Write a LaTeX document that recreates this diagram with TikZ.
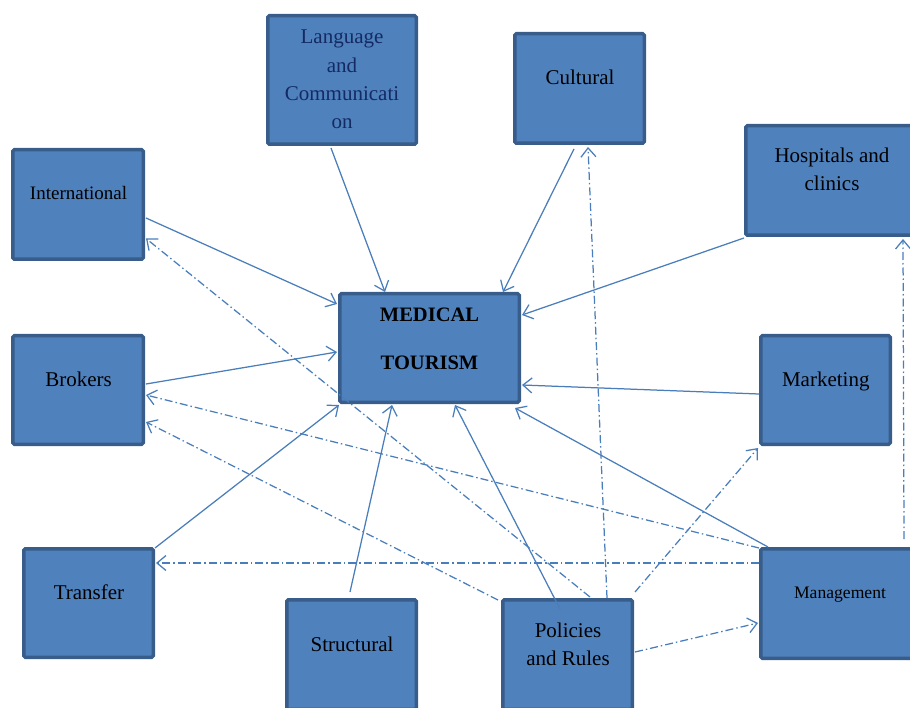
\documentclass[tikz,border=0pt]{standalone}
\usepackage{fontspec}
\setmainfont{Liberation Serif}
\usetikzlibrary{arrows.meta,calc}
\definecolor{boxfill}{HTML}{4F81BD}
\definecolor{boxline}{HTML}{385D8A}
\definecolor{lnc}{HTML}{4A7EBB}
\definecolor{navy}{HTML}{142A63}
\begin{document}
\begin{tikzpicture}[x=1pt,y=-1pt,
  box/.style={draw=boxline, fill=boxfill, line width=3.5pt, rounded corners=1.5pt, inner sep=0pt},
  txt/.style={inner sep=0pt, align=center, font=\fontsize{21}{28.3}\selectfont},
  solidarrow/.style={draw=lnc, line width=1.25pt, -{Straight Barb[length=9pt,width=15pt]}},
  dasharrow/.style={solidarrow, dash pattern=on 8pt off 3pt on 1.5pt off 3pt}]
\clip (0,0) rectangle (910,708);
% boxes
\node[box, minimum width=148.5pt, minimum height=128.5pt] (lang) at (342,80) {};
\node[box, minimum width=129.5pt, minimum height=109.5pt] (cult) at (579.5,88.5) {};
\node[box, minimum width=130.5pt, minimum height=109.5pt] (intl) at (78,204.5) {};
\node[box, minimum width=172.5pt, minimum height=109.5pt] (hosp) at (832,180.5) {};
\node[box, minimum width=179.5pt, minimum height=108.5pt] (MT) at (429.5,348) {};
\node[box, minimum width=130.5pt, minimum height=108.5pt] (brok) at (78,390) {};
\node[box, minimum width=129.5pt, minimum height=108.5pt] (mark) at (825.5,390) {};
\node[box, minimum width=129.5pt, minimum height=108.5pt] (trans) at (88.5,603) {};
\node[box, minimum width=129.5pt, minimum height=109.5pt] (struct) at (351.5,654.5) {};
\node[box, minimum width=129.5pt, minimum height=109.5pt] (pol) at (567.5,654.5) {};
\node[box, minimum width=158.5pt, minimum height=109.5pt] (mgmt) at (840,603.5) {};
% texts
\node[txt, text=navy] (langt) at ($(lang.center)+(0,-0.4)$) {Language\\and\\Communicati\\on};
\node[txt, anchor=base] (cultt) at ($(cult.center)+(0.5,-3.5)$) {Cultural};
\node[txt, anchor=base, font=\fontsize{19}{24}\selectfont] (intlt) at ($(intl.center)+(0.5,-4.5)$) {International};
\node[txt] (hospt) at ($(hosp.center)+(0,-10.9)$) {Hospitals and\\clinics};
\node[txt, font=\fontsize{20.5}{48.3}\selectfont\bfseries] (MTt) at ($(MT.center)+(0,-8.9)$) {MEDICAL\\TOURISM};
\node[txt, anchor=base] (brokt) at ($(brok.center)+(0.5,-3.3)$) {Brokers};
\node[txt, anchor=base] (markt) at ($(mark.center)+(0.3,-3.3)$) {Marketing};
\node[txt, anchor=base] (transt) at ($(trans.center)+(0.5,-4)$) {Transfer};
\node[txt, anchor=base] (structt) at ($(struct.center)+(0.5,-3.5)$) {Structural};
\node[txt] (polt) at ($(pol.center)+(0.5,-10.3)$) {Policies\\and Rules};
\node[txt, anchor=base, font=\fontsize{17.6}{22}\selectfont] (mgmtt) at ($(mgmt.center)+(0,-5.5)$) {Management};
% solid connectors
\draw[solidarrow] ($(lang.south)+(-11,2)$) -- ($(MT.north)+(-44.5,0)$);
\draw[solidarrow] ($(cult.south)+(-5.5,4)$) -- ($(MT.north)+(73.5,0)$);
\draw[solidarrow] ($(hosp.south west)+(0,1)$) -- ($(MT.east)+(1,-33)$);
\draw[solidarrow] ($(intl.east)+(1,13.5)$) -- ($(MT.west)+(-1,-44)$);
\draw[solidarrow] ($(brok.east)+(1,-6)$) -- ($(MT.west)+(-1,4)$);
\draw[solidarrow] ($(mark.west)+(0,4)$) -- ($(MT.east)+(1,37)$);
\draw[solidarrow] ($(trans.north east)+(0,1)$) -- ($(MT.south west)+(1,1)$);
\draw[solidarrow] ($(struct.north)+(-1.5,-6)$) -- ($(MT.south)+(-37.5,1)$);
\draw[solidarrow] ($(pol.north)+(-7.5,11)$) -- ($(MT.south)+(25.5,1)$);
\draw[solidarrow] ($(mgmt.north west)+(9,0)$) -- ($(MT.south east)+(-6,4)$);
% dash-dot connectors
\draw[dasharrow] ($(pol.north)+(39.5,0)$) -- ($(cult.south)+(8.5,2)$);
\draw[dasharrow] ($(pol.north)+(22.5,-1)$) -- ($(intl.east)+(1,34)$);
\draw[dasharrow] ($(pol.north east)+(1,-6)$) -- ($(mark.south west)+(-1,2)$);
\draw[dasharrow] ($(pol.east)+(1,-2.5)$) -- ($(mgmt.west)+(-1,19.5)$);
\draw[dasharrow] ($(mgmt.west)+(0,-40.5)$) -- ($(trans.east)+(1,-40)$);
\draw[dasharrow] ($(mgmt.north west)+(0,1)$) -- ($(brok.east)+(1,5)$);
\draw[dasharrow] ($(pol.north west)+(-3,2)$) -- ($(brok.east)+(1,32)$);
\draw[dasharrow] ($(mgmt.north)+(64,-8)$) -- ($(hosp.south)+(71,2)$);
\end{tikzpicture}
\end{document}
